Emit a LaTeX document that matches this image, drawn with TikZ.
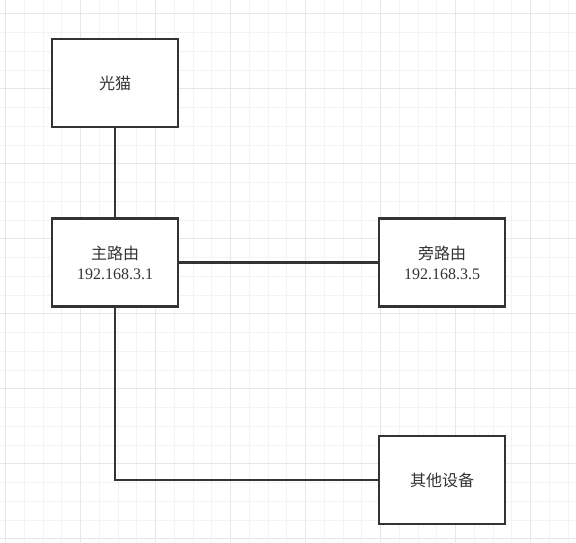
\documentclass[tikz,border=0pt]{standalone}
\usepackage{fontspec}
\setmainfont{Liberation Serif}
\newfontfamily\cjk{Noto Sans CJK SC}
\usepackage{tikz}

\definecolor{gridminor}{HTML}{F3F3F3}
\definecolor{gridmajor}{HTML}{E6E6E6}
\definecolor{boxline}{HTML}{333333}

\tikzset{
  device/.style={rectangle, draw=boxline, line width=2.5pt, fill=white,
    minimum width=126pt, minimum height=88pt, inner sep=0pt,
    align=center, text=boxline, font=\fontsize{16}{20}\selectfont},
  link/.style={draw=boxline, line width=2.5pt}
}

\begin{document}
\begin{tikzpicture}[x=1pt, y=-1pt]

  \useasboundingbox (0,0) rectangle (576,542);
  \fill[white] (0,0) rectangle (576,542);

  \foreach \i in {0,1,...,30}
  {
    \draw[gridminor, line width=1pt] (5.5+18.75*\i, 0) -- (5.5+18.75*\i, 542);
    \draw[gridminor, line width=1pt] (0, 13.75+18.75*\i) -- (576, 13.75+18.75*\i);
  }

  \foreach \i in {0,4,...,28}
  {
    \draw[gridmajor, line width=1pt] (5.5+18.75*\i, 0) -- (5.5+18.75*\i, 542);
    \draw[gridmajor, line width=1pt] (0, 13.75+18.75*\i) -- (576, 13.75+18.75*\i);
  }

  \node[device] (guangmao) at (115, 83) {\cjk 光猫};
  \node[device] (zhuluyou) at (115, 262.5) {{\cjk 主路由}\\192.168.3.1};
  \node[device] (pangluyou) at (442, 262.5) {{\cjk 旁路由}\\192.168.3.5};
  \node[device] (qita) at (442, 480) {\cjk 其他设备};

  \draw[link] (guangmao) -- (zhuluyou);
  \draw[link] (zhuluyou) -- (pangluyou);
  \draw[link] (zhuluyou.south) |- (qita.west);
\end{tikzpicture}
\end{document}
